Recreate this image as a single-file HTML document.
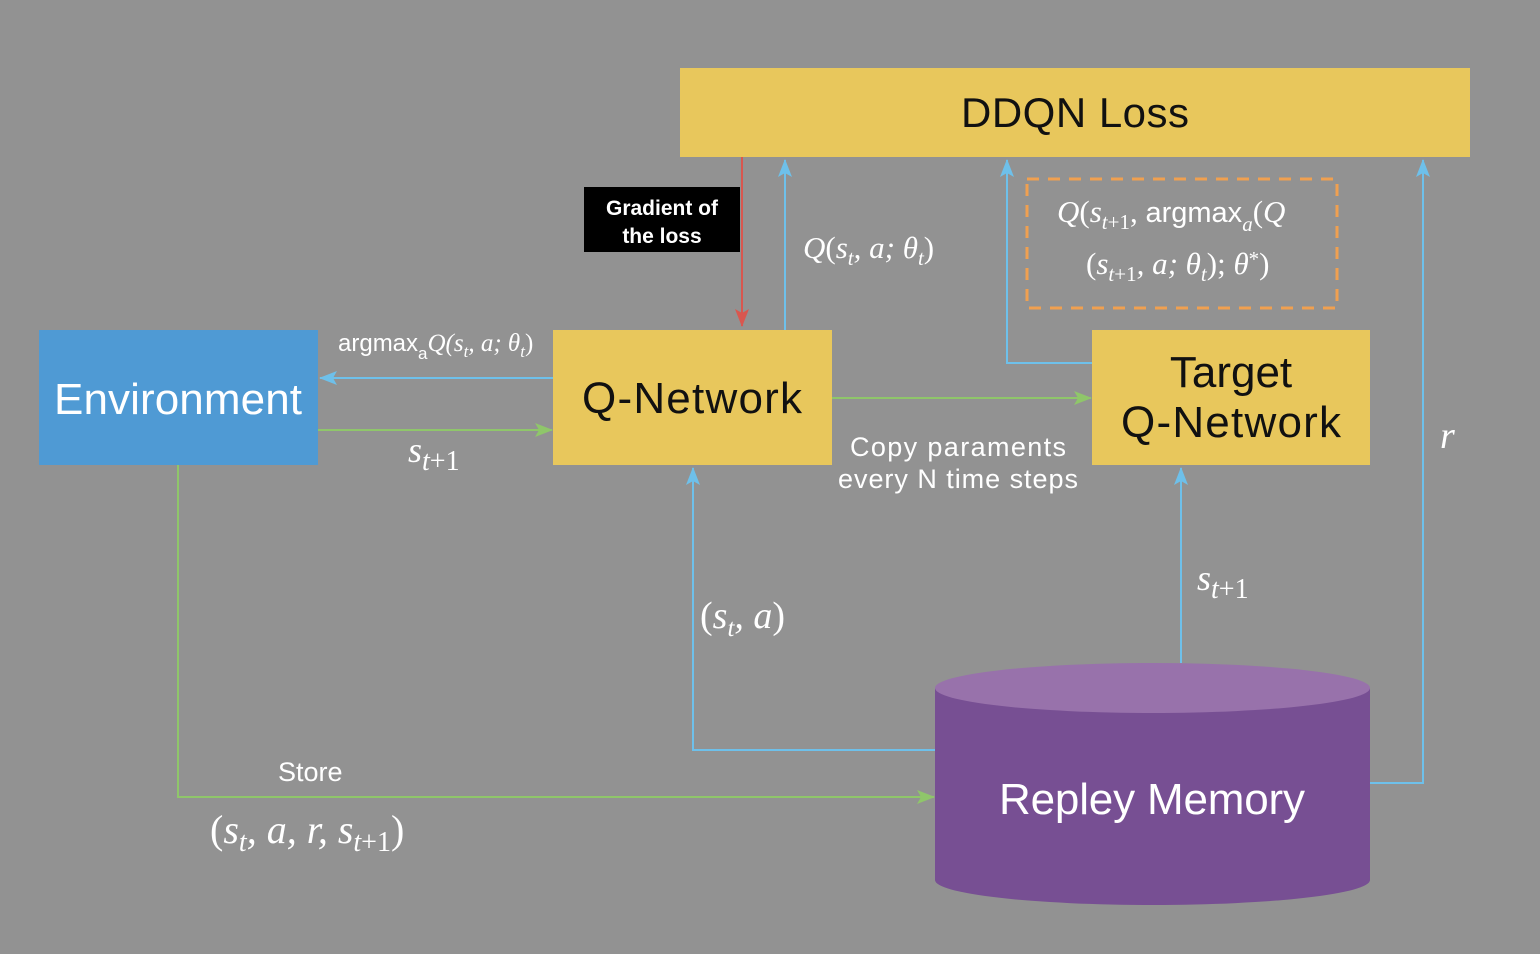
<!DOCTYPE html>
<html><head><meta charset="utf-8"><style>
html,body{margin:0;padding:0;background:#929292;}
svg{display:block}
.s{font-family:"Liberation Sans",sans-serif;fill:#fff}
.m{font-family:"Liberation Serif",serif;font-style:italic;fill:#fff}
.r{font-style:normal}
</style></head><body>
<svg width="1540" height="954" viewBox="0 0 1540 954" xmlns="http://www.w3.org/2000/svg">
<defs>
<marker id="ab" markerWidth="18" markerHeight="14" refX="17" refY="7" orient="auto" markerUnits="userSpaceOnUse"><path d="M0,0 L18,7 L0,14 L4,7 z" fill="#6ec0ea"/></marker>
<marker id="ag" markerWidth="18" markerHeight="14" refX="17" refY="7" orient="auto" markerUnits="userSpaceOnUse"><path d="M0,0 L18,7 L0,14 L4,7 z" fill="#8fc66a"/></marker>
<marker id="ar" markerWidth="18" markerHeight="14" refX="17" refY="7" orient="auto" markerUnits="userSpaceOnUse"><path d="M0,0 L18,7 L0,14 L4,7 z" fill="#d9574f"/></marker>
</defs>
<rect width="1540" height="954" fill="#929292"/>
<rect x="680" y="68" width="790" height="89" fill="#e8c75c"/>
<text x="1075" y="127" text-anchor="middle" font-size="42" font-family="Liberation Sans,sans-serif" fill="#111" textLength="228">DDQN Loss</text>
<rect x="39" y="330" width="279" height="135" fill="#4f9ad4"/>
<text x="178" y="414" text-anchor="middle" class="s" font-size="44" textLength="248">Environment</text>
<rect x="553" y="330" width="279" height="135" fill="#e8c75c"/>
<text x="692" y="413" text-anchor="middle" font-size="44" font-family="Liberation Sans,sans-serif" fill="#111" textLength="220">Q-Network</text>
<rect x="1092" y="330" width="278" height="135" fill="#e8c75c"/>
<text x="1231" y="387" text-anchor="middle" font-size="44" font-family="Liberation Sans,sans-serif" fill="#111">Target</text>
<text x="1231" y="437" text-anchor="middle" font-size="44" font-family="Liberation Sans,sans-serif" fill="#111" textLength="220">Q-Network</text>
<rect x="584" y="187" width="156" height="65" fill="#000"/>
<text x="662" y="215" text-anchor="middle" class="s" font-size="21" font-weight="bold">Gradient of</text>
<text x="662" y="243" text-anchor="middle" class="s" font-size="21" font-weight="bold">the loss</text>
<rect x="1027" y="179" width="310" height="129" fill="none" stroke="#f0a050" stroke-width="3" stroke-dasharray="12,9"/>
<path d="M935,688 L935,880 A217.5,25 0 0 0 1370,880 L1370,688 z" fill="#774f93"/>
<ellipse cx="1152.5" cy="688" rx="217.5" ry="25" fill="#9872ab"/>
<text x="1152" y="814" text-anchor="middle" class="s" font-size="44" textLength="306">Repley Memory</text>
<g fill="none" stroke-width="2">
<line x1="742" y1="157" x2="742" y2="326" stroke="#d9574f" marker-end="url(#ar)"/>
<line x1="785" y1="330" x2="785" y2="160" stroke="#6ec0ea" marker-end="url(#ab)"/>
<polyline points="1092,363 1007,363 1007,160" stroke="#6ec0ea" marker-end="url(#ab)"/>
<polyline points="1370,783 1423,783 1423,160" stroke="#6ec0ea" marker-end="url(#ab)"/>
<line x1="553" y1="378" x2="320" y2="378" stroke="#6ec0ea" marker-end="url(#ab)"/>
<line x1="318" y1="430" x2="552" y2="430" stroke="#8fc66a" marker-end="url(#ag)"/>
<line x1="832" y1="398" x2="1091" y2="398" stroke="#8fc66a" marker-end="url(#ag)"/>
<polyline points="935,750 693,750 693,468" stroke="#6ec0ea" marker-end="url(#ab)"/>
<line x1="1181" y1="663" x2="1181" y2="468" stroke="#6ec0ea" marker-end="url(#ab)"/>
<polyline points="178,465 178,797 934,797" stroke="#8fc66a" marker-end="url(#ag)"/>
</g>
<text x="338" y="351" class="s" font-size="24">argmax<tspan font-size="17" dy="8">a</tspan><tspan class="m" font-size="25" dy="-8">Q(s<tspan font-size="17" dy="6">t</tspan><tspan dy="-6" class="m">, a; θ</tspan><tspan font-size="17" dy="6">t</tspan><tspan dy="-6" class="m r">)</tspan></tspan></text>
<text x="408" y="462" class="m" font-size="36">s<tspan font-size="28" dy="8">t</tspan><tspan font-size="28" class="r">+1</tspan></text>
<text x="803" y="258" class="m" font-size="31">Q<tspan class="r">(</tspan>s<tspan font-size="21" dy="7">t</tspan><tspan dy="-7">, a; θ</tspan><tspan font-size="21" dy="7">t</tspan><tspan dy="-7" class="r">)</tspan></text>
<text x="1057" y="222" class="m" font-size="31">Q<tspan class="r">(</tspan>s<tspan font-size="21" dy="7">t</tspan><tspan font-size="21" class="r">+1</tspan><tspan dy="-7" class="r">, </tspan><tspan font-family="Liberation Sans,sans-serif" font-style="normal" font-size="29">argmax</tspan><tspan font-size="21" dy="9">a</tspan><tspan dy="-9" class="r">(</tspan>Q</text>
<text x="1086" y="274" class="m" font-size="31"><tspan class="r">(</tspan>s<tspan font-size="21" dy="7">t</tspan><tspan font-size="21" class="r">+1</tspan><tspan dy="-7">, a; θ</tspan><tspan font-size="21" dy="7">t</tspan><tspan dy="-7" class="r">); </tspan><tspan>θ</tspan><tspan font-size="21" dy="-8" class="r">*</tspan><tspan dy="8" class="r">)</tspan></text>
<text x="958" y="456" text-anchor="middle" class="s" font-size="27" textLength="216">Copy paraments</text>
<text x="958" y="488" text-anchor="middle" class="s" font-size="27" textLength="240">every N time steps</text>
<text x="1440" y="448" class="m" font-size="38">r</text>
<text x="1197" y="590" class="m" font-size="36">s<tspan font-size="28" dy="8">t</tspan><tspan font-size="28" class="r">+1</tspan></text>
<text x="700" y="628" class="m" font-size="38"><tspan class="r">(</tspan>s<tspan font-size="25" dy="8">t</tspan><tspan dy="-8">, a</tspan><tspan class="r">)</tspan></text>
<text x="278" y="781" class="s" font-size="27">Store</text>
<text x="210" y="843" class="m" font-size="40"><tspan class="r">(</tspan>s<tspan font-size="28" dy="8">t</tspan><tspan dy="-8">, a, r, s</tspan><tspan font-size="28" dy="8">t</tspan><tspan font-size="28" class="r">+1</tspan><tspan dy="-8" class="r">)</tspan></text>
</svg>
</body></html>
